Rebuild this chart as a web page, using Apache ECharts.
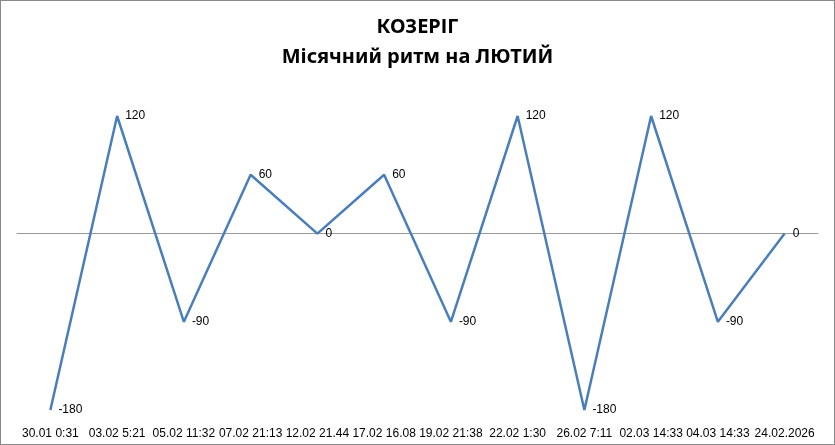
<!DOCTYPE html>
<html>
<head>
<meta charset="utf-8">
<script src="https://cdn.jsdelivr.net/npm/echarts@6/dist/echarts.min.js"></script>
<style>
html,body{margin:0;padding:0;background:#fff;}
#chart{width:833px;height:443px;border:1px solid #888;}
</style>
</head>
<body>
<div id="chart"></div>
<script>
var categories = ['30.01 0:31', '03.02 5:21', '05.02 11:32', '07.02 21:13', '12.02 21.44', '17.02 16.08',
  '19.02 21:38', '22.02 1:30', '26.02 7:11', '02.03 14:33', '04.03 14:33', '24.02.2026\n4:28'];
var values = [-180, 120, -90, 60, 0, 60, -90, 120, -180, 120, -90, 0];

var myChart = echarts.init(document.getElementById('chart'));
var option = {
    title: {
        text: 'КОЗЕРІГ\nМісячний ритм на ЛЮТИЙ',
        left: 'center',
        top: 6,
        textStyle: {
            fontFamily: 'Noto Sans',
            fontSize: 20,
            fontWeight: 'bold',
            color: '#000',
            lineHeight: 30
        }
    },
    grid: {
        top: 115,
        bottom: 34,
        left: 16,
        right: 16,
        containLabel: false,
        outerBoundsMode: 'none'
    },
    xAxis: {
        type: 'category',
        data: categories,
        axisLine: {
            onZero: true,
            lineStyle: { color: '#999', width: 1 }
        },
        axisTick: { show: false },
        axisLabel: {
            interval: 0,
            color: '#000',
            fontSize: 12,
            fontFamily: 'Liberation Sans',
            margin: 16,
            lineHeight: 16
        }
    },
    yAxis: {
        type: 'value',
        min: -180,
        max: 120,
        axisLine: { show: false },
        axisTick: { show: false },
        axisLabel: { show: false },
        splitLine: { show: false }
    },
    series: [{
        type: 'line',
        data: values,
        symbol: 'circle',
        symbolSize: 0,
        lineStyle: { color: '#4a7ebb', width: 2.5 },
        label: {
            show: true,
            position: 'right',
            distance: 8,
            color: '#000',
            fontSize: 12,
            fontFamily: 'Liberation Sans'
        }
    }]
};
myChart.setOption(option);
</script>
</body>
</html>
